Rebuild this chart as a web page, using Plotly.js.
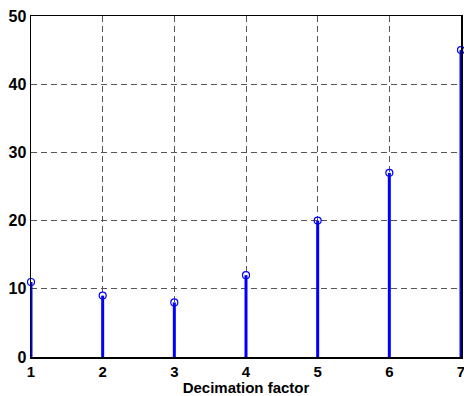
<!DOCTYPE html>
<html>
<head>
<meta charset="utf-8">
<script src="https://cdn.plot.ly/plotly-3.0.1.min.js"></script>
<style>html,body{margin:0;padding:0;background:#fff;}#chart{width:464px;height:396px;}</style>
</head>
<body>
<div id="chart"></div>
<script>
const factors = [1, 2, 3, 4, 5, 6, 7];
const values = [11, 9, 8, 12, 20, 27, 45];
const xTicks = [1, 2, 3, 4, 5, 6, 7];
const yTicks = [0, 10, 20, 30, 40, 50];

const stemX = [], stemY = [];
factors.forEach((f, i) => { stemX.push(f, f, null); stemY.push(0, values[i], null); });

const traces = [
  {x: stemX, y: stemY, type: 'scatter', mode: 'lines', line: {color: '#0000ff', width: 3}, hoverinfo: 'skip', showlegend: false, cliponaxis: false},
  {x: factors, y: values, type: 'scatter', mode: 'markers', marker: {symbol: 'circle-open', size: 7, color: '#0000ff', line: {width: 1.2, color: '#0000ff'}}, showlegend: false, cliponaxis: false}
];

const fam = 'Liberation Sans, Arial, sans-serif';
const layout = {
  width: 464, height: 396,
  margin: {l: 31, r: 2.5, t: 16, b: 39},
  paper_bgcolor: '#fff', plot_bgcolor: '#fff',
  xaxis: {
    range: [1, 7], tickvals: xTicks, ticktext: xTicks.map(v => '<b>' + v + '</b>'),
    showgrid: true, gridcolor: '#555', griddash: '6px,4px', gridwidth: 1,
    zeroline: false, showline: true, linecolor: '#000', linewidth: 1.5, mirror: true,
    ticks: '', tickfont: {family: fam, size: 15, color: '#000'},
    ticklabeloverflow: 'allow', ticklabelstandoff: 0,
    title: {text: '<b>Decimation factor</b>', font: {family: fam, size: 15, color: '#000'}, standoff: 0}
  },
  yaxis: {
    range: [0, 50], tickvals: yTicks, ticktext: yTicks.map(v => '<b>' + v + '</b>'),
    showgrid: true, gridcolor: '#555', griddash: '6px,4px', gridwidth: 1,
    zeroline: false, showline: true, linecolor: '#000', linewidth: 1.5, mirror: true,
    ticks: '', tickfont: {family: fam, size: 16, color: '#000'},
    ticklabeloverflow: 'allow', ticklabelstandoff: 0
  }
};
Plotly.newPlot('chart', traces, layout, {displayModeBar: false, staticPlot: true});
</script>
</body>
</html>
